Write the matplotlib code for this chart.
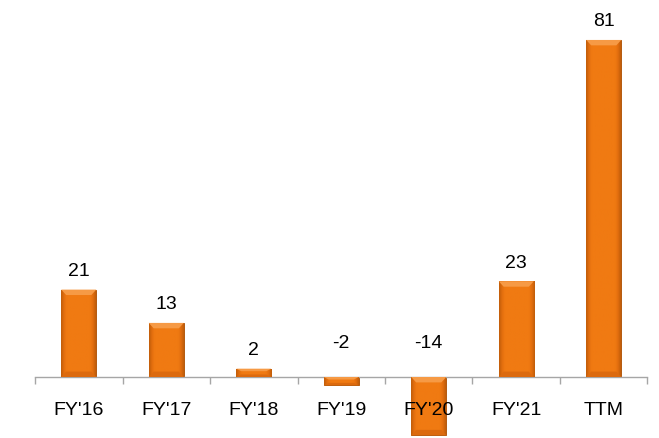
import numpy as np
import matplotlib
matplotlib.use('Agg')
import matplotlib.pyplot as plt
from matplotlib.colors import LinearSegmentedColormap

categories = ["FY'16", "FY'17", "FY'18", "FY'19", "FY'20", "FY'21", "TTM"]
values = [21, 13, 2, -2, -14, 23, 81]

plt.rcParams['font.family'] = ['Liberation Sans', 'DejaVu Sans']

fig = plt.figure(figsize=(6.59, 4.38), dpi=100)
ax = fig.add_axes([35 / 659, 0, 612.5 / 659, 1])

x = np.arange(len(categories))
bars = ax.bar(x, values, width=0.4, color='#F07A12', edgecolor='#B35A10', linewidth=0.7, zorder=2)

# bevel-ish shading: thin dark sides, flat orange middle
cmap = LinearSegmentedColormap.from_list(
    'bev', [(0, '#C25E0A'), (0.08, '#E26E0E'), (0.16, '#F07A12'),
            (0.84, '#F07A12'), (0.92, '#E26E0E'), (1, '#C25E0A')])
grad = np.linspace(0, 1, 64).reshape(1, -1)
for b in bars:
    x0, y0 = b.get_x(), b.get_y()
    w, h = b.get_width(), b.get_height()
    im = ax.imshow(grad, cmap=cmap, aspect='auto', extent=(x0, x0 + w, y0, y0 + h),
                   zorder=3, interpolation='bilinear')
    im.set_clip_path(b)
    top = max(y0, y0 + h)
    bot = min(y0, y0 + h)
    th = min(1.3, abs(h) * 0.3)
    ax.fill([x0, x0 + w, x0 + w * 0.86, x0 + w * 0.14], [top, top, top - th, top - th],
            color='#F69A45', zorder=4, lw=0)
    ax.fill([x0, x0 + w, x0 + w * 0.86, x0 + w * 0.14], [bot, bot, bot + th, bot + th],
            color='#DC6A0E', zorder=4, lw=0)
ax.set_xlim(-0.5, 6.5)
ax.set_ylim(-14.66, 90.6)

for xi, v in zip(x, values):
    if v >= 0:
        ax.annotate(str(v), (xi, v), xytext=(0, 7), textcoords='offset points',
                    ha='center', va='bottom', fontsize=14)
    else:
        ax.annotate(str(v), (xi, 0), xytext=(0, 18), textcoords='offset points',
                    ha='center', va='bottom', fontsize=14)

for s in ['top', 'right', 'left']:
    ax.spines[s].set_visible(False)
ax.spines['bottom'].set_position(('data', 0))
ax.spines['bottom'].set_color('#A6A6A6')
ax.spines['bottom'].set_linewidth(1.0)
ax.set_yticks([])
ax.set_xticks(x)
ax.set_xticklabels(categories, fontsize=14)
ax.tick_params(axis='x', which='major', length=0, pad=18)
ax.set_xticks(np.arange(-0.5, 7, 1), minor=True)
ax.tick_params(axis='x', which='minor', length=5, color='#A6A6A6', width=1.0)
ax.xaxis.set_zorder(10)

fig.savefig('out.png', dpi=100)
